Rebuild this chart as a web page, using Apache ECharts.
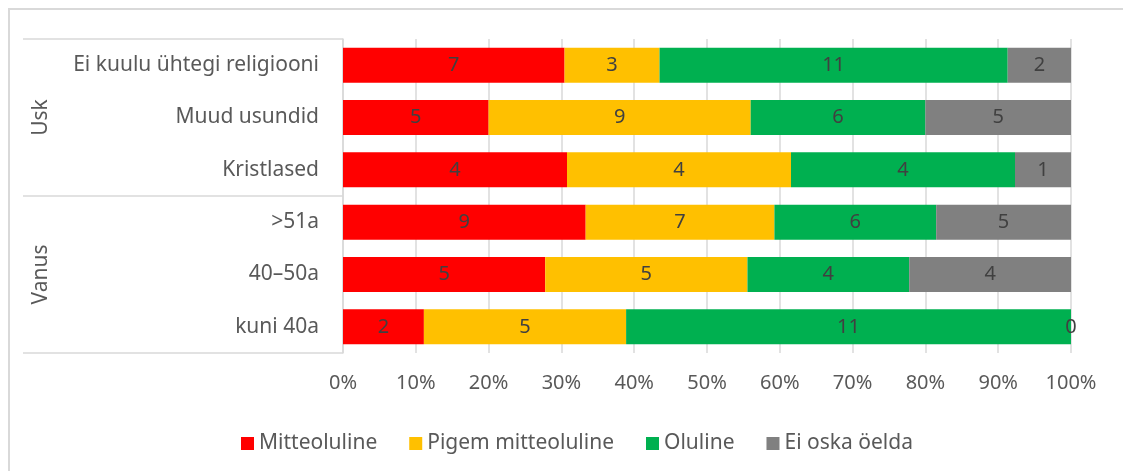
<!DOCTYPE html>
<html>
<head>
<meta charset="utf-8">
<script src="https://cdn.jsdelivr.net/npm/echarts@6/dist/echarts.min.js"></script>
<style>
html, body { margin: 0; padding: 0; background: #fff; }
#main { width: 1123px; height: 471px; }
</style>
</head>
<body>
<div id="main"></div>
<script>
// categories, top to bottom
const categories = ['Ei kuulu ühtegi religiooni', 'Muud usundid', 'Kristlased', '>51a', '40–50a', 'kuni 40a']
const groups = ['Usk', 'Vanus']
const seriesNames = ['Mitteoluline', 'Pigem mitteoluline', 'Oluline', 'Ei oska öelda']
// counts per answer
const mitteoluline = [7, 5, 4, 9, 5, 2]
const pigemMitteoluline = [3, 9, 4, 7, 5, 5]
const oluline = [11, 6, 4, 6, 4, 11]
const eiOska = [2, 5, 1, 5, 4, 0]
const colors = ['#FF0000', '#FFC000', '#00B050', '#808080']

const counts = [mitteoluline, pigemMitteoluline, oluline, eiOska]
const totals = categories.map((c, i) => counts.reduce((s, arr) => s + arr[i], 0))

const font = 'Noto Sans'
const grey = '#d9d9d9'

let myChart = echarts.init(document.getElementById('main'))
let option = {
    backgroundColor: '#fff',
    color: colors,
    textStyle: { fontFamily: font },
    graphic: [{
        type: 'rect',
        shape: { x: 9, y: 9, width: 1300, height: 700 },
        style: { fill: 'none', stroke: grey, lineWidth: 2 },
        silent: true
    }],
    grid: {
        left: 343,
        right: 52,
        top: 39,
        bottom: 118
    },
    legend: {
        left: 236,
        top: 428,
        itemWidth: 13,
        itemHeight: 13,
        itemGap: 32,
        icon: 'rect',
        data: seriesNames,
        textStyle: { color: '#595959', fontSize: 21, fontFamily: font }
    },
    xAxis: {
        type: 'value',
        min: 0,
        max: 100,
        interval: 10,
        axisLabel: {
            formatter: '{value}%',
            color: '#595959',
            fontSize: 20,
            margin: 20
        },
        axisLine: { show: false },
        axisTick: { show: false },
        splitLine: { show: true, lineStyle: { color: grey, width: 1.5 } }
    },
    yAxis: [
        {
            type: 'category',
            inverse: true,
            data: categories,
            axisLine: { show: true, lineStyle: { color: grey, width: 1.5 } },
            axisTick: { show: false },
            axisLabel: { color: '#595959', fontSize: 21, margin: 24 }
        },
        {
            type: 'category',
            inverse: true,
            position: 'left',
            data: groups,
            axisLine: { show: false },
            axisTick: { show: true, length: 320, lineStyle: { color: grey, width: 1.5 } },
            axisLabel: { color: '#595959', fontSize: 21, rotate: 90, margin: 291 }
        }
    ],
    series: seriesNames.map((name, k) => ({
        name: name,
        type: 'bar',
        stack: 'total',
        yAxisIndex: 0,
        barCategoryGap: '33%',
        data: counts[k].map((v, i) => v / totals[i] * 100),
        label: {
            show: true,
            position: 'inside',
            color: '#404040',
            fontSize: 20,
            fontFamily: font,
            formatter: p => counts[k][p.dataIndex]
        }
    }))
}
myChart.setOption(option)
</script>
</body>
</html>
